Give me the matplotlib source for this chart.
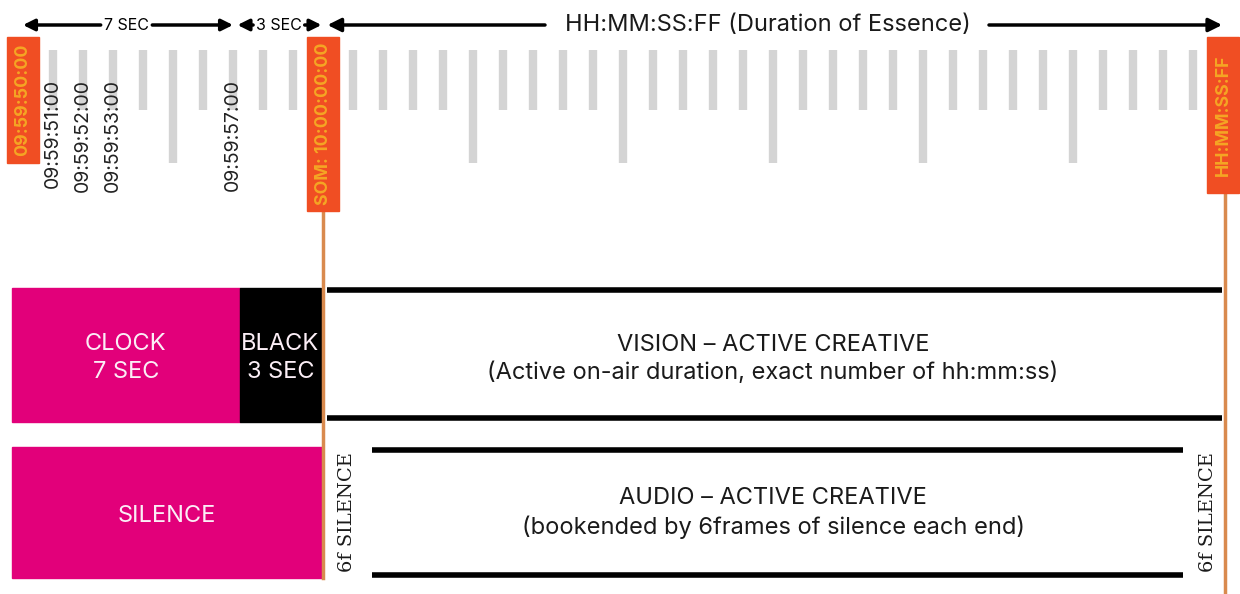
import numpy as np
from matplotlib import pyplot as plt
from matplotlib.patches import Rectangle

# timeline in seconds relative to SOM (10:00:00:00)
tick_secs = list(range(-9, 0)) + list(range(1, 30))
long_every = 5

time_label_secs = [-9, -8, -7, -3]
time_labels = ['09:59:51:00', '09:59:52:00', '09:59:53:00', '09:59:57:00']

marker_secs = [-10, 0, 30]
marker_labels = ['09:59:50:00', 'SOM: 10:00:00:00', 'HH:MM:SS:FF']
marker_bottoms = [163, 211, 193]

# duration arrows: (start, end, label centre, label)
spans = [(-10.0, -3.0, -6.55, '7 SEC'), (-2.85, -0.05, -1.47, '3 SEC')]

# (start, end, label, colour, row)
blocks = [
    (-10.37, -2.77, 'CLOCK\n7 SEC', '#e2007a', 'vision'),
    (-2.77, -0.07, 'BLACK\n3 SEC', '#000000', 'vision'),
    (-10.37, -0.03, 'SILENCE', '#e2007a', 'audio'),
]
vision_span = (0.13, 29.97)
audio_span = (1.63, 28.67)

px0 = 323.0
pxs = 30.0

fig = plt.figure(figsize=(12.4, 5.94), dpi=100)
ax = fig.add_axes([0, 0, 1, 1])
ax.set_xlim((0 - px0) / pxs, (1240 - px0) / pxs)
ax.set_ylim(594, 0)
ax.axis('off')

font = ['Inter', 'DejaVu Sans']
orange = '#f04e23'
ochre = '#f5a623'
line_col = '#d98a4e'
txt = '#1a1a1a'

# ruler ticks
for s in tick_secs:
    bottom = 163 if s % long_every == 0 else 110
    ax.plot([s, s], [50, bottom], color='#d4d4d4', lw=6, solid_capstyle='butt')

for s, lab in zip(time_label_secs, time_labels):
    ax.text(s, 79, lab, rotation=90, ha='center', va='top', fontsize=14,
            family=font, color='#222222')

# orange markers + vertical guide lines
for s, lab, b in zip(marker_secs, marker_labels, marker_bottoms):
    w = 32 / pxs
    ax.add_patch(Rectangle((s - w / 2, 37), w, b - 37, color=orange, zorder=3))
    ax.text(s, (37 + b) / 2, lab, rotation=90, ha='center', va='center',
            fontsize=12.8, fontweight='bold', color=ochre, family=font, zorder=4)
ax.plot([0, 0], [211, 578], color=line_col, lw=2.5, zorder=2)
ax.plot([30.05, 30.05], [193, 594], color=line_col, lw=2.5, zorder=2)

# top arrows
one = dict(arrowstyle='-|>', color='black', lw=2.5, mutation_scale=20,
           shrinkA=0, shrinkB=0)
small = dict(one, mutation_scale=17)
half = 0.86
for x0, x1, xc, lab in spans:
    ax.annotate('', xy=(x0, 25), xytext=(xc - half, 25), arrowprops=small)
    ax.annotate('', xy=(x1, 25), xytext=(xc + half, 25), arrowprops=small)
    ax.text(xc, 25, lab, ha='center', va='center', fontsize=11.5, family=font)
ax.annotate('', xy=(0.15, 25), xytext=(7.4, 25), arrowprops=one)
ax.annotate('', xy=(29.97, 25), xytext=(22.2, 25), arrowprops=one)
ax.text(14.83, 25, 'HH:MM:SS:FF (Duration of Essence)', ha='center', va='center',
        fontsize=17, family=font, color=txt)

# blocks
rows = {'vision': (288, 422), 'audio': (447, 578)}
for x0, x1, lab, col, row in blocks:
    y0, y1 = rows[row]
    ax.add_patch(Rectangle((x0, y0), x1 - x0, y1 - y0, color=col, zorder=1))
    ax.text((x0 + x1) / 2, (y0 + y1) / 2 + 3, lab, ha='center', va='center',
            fontsize=17, color='#fbeef6', family=font, linespacing=1.3, zorder=3)

# vision row
for y in [290, 418]:
    ax.plot(vision_span, [y, y], color='black', lw=4, solid_capstyle='butt')
ax.text(15, 359, 'VISION \u2013 ACTIVE CREATIVE\n(Active on-air duration, exact number of hh:mm:ss)',
        ha='center', va='center', fontsize=17, family=font, color=txt,
        linespacing=1.3)

# audio row
for y in [450, 575]:
    ax.plot(audio_span, [y, y], color='black', lw=4, solid_capstyle='butt')
ax.text(15, 513, 'AUDIO \u2013 ACTIVE CREATIVE\n(bookended by 6frames of silence each end)',
        ha='center', va='center', fontsize=17, family=font, color=txt,
        linespacing=1.3)
for s in [0.8, 29.5]:
    ax.text(s, 512, '6f SILENCE', rotation=90, ha='center', va='center',
            fontsize=14, family=['DejaVu Serif'], color=txt)

plt.savefig('out.png', dpi=100)
